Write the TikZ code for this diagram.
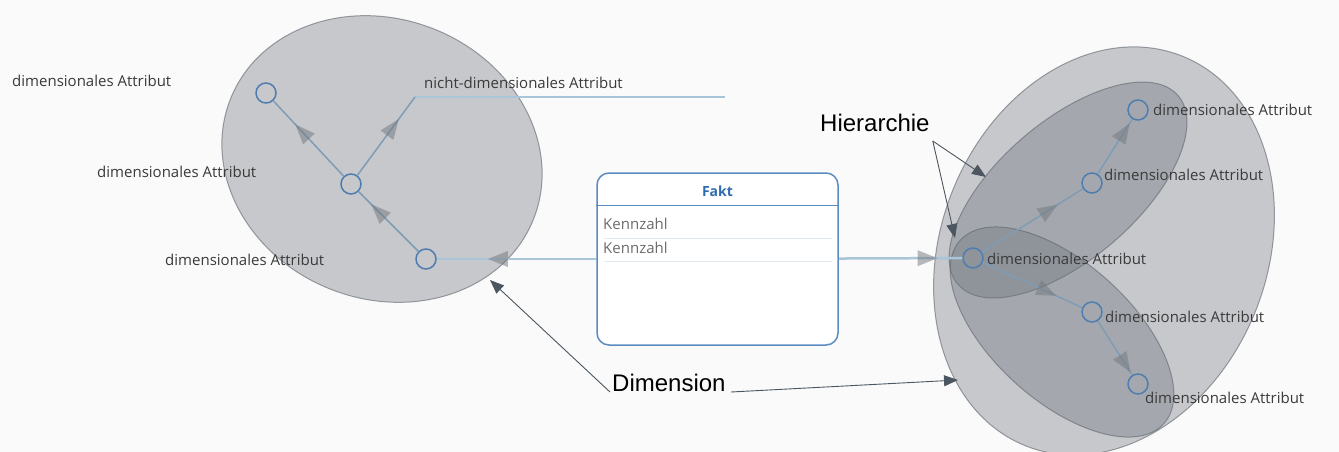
\documentclass[tikz,border=0pt]{standalone}
\usepackage{fontspec}
\setmainfont{Open Sans}
\newfontfamily\annfont{Liberation Sans}
\usetikzlibrary{positioning, calc, shapes.geometric, arrows.meta, decorations.markings}
\definecolor{bgc}{HTML}{FAFAFA}
\definecolor{zonec}{HTML}{6A727B}
\definecolor{zoneline}{HTML}{5E656D}
\definecolor{edgec}{HTML}{7F9CB4}
\definecolor{linkc}{HTML}{A9C5D8}
\definecolor{tipc}{HTML}{72787E}
\definecolor{nodec}{HTML}{4F7DAF}
\definecolor{labelc}{HTML}{3A3A3A}
\definecolor{faktc}{HTML}{5A8CC2}
\definecolor{faktink}{HTML}{2F6BAF}
\definecolor{rowc}{HTML}{E2E9EF}
\definecolor{annc}{HTML}{4B5660}
\newcommand{\LabelF}{\fontsize{15}{18}\selectfont}
\newcommand{\AnnF}{\annfont\fontsize{24}{28}\selectfont}
\newcommand{\hedge}[4]{%
  \draw[#4, postaction={decorate}, decoration={markings,
    mark=at position #3 with {\arrow[tipc, opacity=0.5]{Triangle[length=20pt, width=16pt, line width=0pt]}}}] (#1) -- (#2);
}
\tikzset{
  zone/.style={ellipse, draw=zoneline, line width=1pt, draw opacity=0.6,
    fill=zonec, fill opacity=0.36, inner sep=0pt},
  attr/.style={circle, draw=nodec, line width=1.5pt, minimum size=20pt, inner sep=0pt},
  alabel/.style={font=\LabelF, text=labelc, inner sep=0pt},
  hier/.style={draw=edgec, line width=1.5pt},
  link/.style={draw=linkc, line width=2.5pt},
  fakt/.style={draw=faktc, line width=1.5pt, rounded corners=12pt, fill=white,
    minimum width=241pt, minimum height=172pt, inner sep=0pt},
  annot/.style={font=\AnnF, text=black, inner sep=0pt},
  pointer/.style={draw=annc, line width=0.9pt, -{Triangle[length=14pt, width=11pt]}}
}
\begin{document}
\begin{tikzpicture}[x=1pt, y=-1pt]
\useasboundingbox (0,0) rectangle (1339,452);
\fill[bgc] (0,0) rectangle (1339,452);

% dimensions and hierarchies
\node[zone, minimum width=326pt, minimum height=280pt, rotate=-21.5] (dimleft) at (382,159) {};
\node[zone, minimum width=420pt, minimum height=326pt, rotate=68] (dimright) at (1104,251) {};
\node[zone, minimum width=290pt, minimum height=138pt, rotate=40.6] (hierup) at (1068,190) {};
\node[zone, minimum width=274pt, minimum height=138pt, rotate=-42] (hierdown) at (1062,332) {};

% left dimension
\node[attr] (la) at (266,93) {};
\node[attr] (lb) at (351,184) {};
\node[attr] (lc) at (426,259) {};
\coordinate (nbend) at (415,97);
\coordinate (nend) at (725,97);
\draw[link] (nbend) -- (nend);
\hedge{lb}{nbend}{0.72}{hier}
\hedge{lb}{la}{0.69}{hier}
\hedge{lc}{lb}{0.79}{hier}
\node[alabel, anchor=west] (la-t) at (12,81) {dimensionales Attribut};
\node[alabel, anchor=west] (lb-t) at (97,172) {dimensionales Attribut};
\node[alabel, anchor=west] (lc-t) at (165,260) {dimensionales Attribut};
\node[alabel, anchor=west] (nd-t) at (424,83) {nicht-dimensionales Attribut};

% fact
\node[fakt] (fakt) at (717.5,259) {};
\hedge{fakt}{lc}{0.68}{link}
\node[attr] (r0) at (973,258) {};
\hedge{fakt}{r0}{0.80}{link}
\node[font=\fontsize{14}{16}\selectfont\bfseries, text=faktink] (fakt-t) at (717.5,191) {Fakt};
\draw[faktc, line width=1.2pt] ([yshift=-33pt]fakt.north west) -- ([yshift=-33pt]fakt.north east);
\draw[rowc, line width=1pt] (604,238) -- (832,238);
\draw[rowc, line width=1pt] (604,261) -- (832,261);
\node[alabel, text=gray!85!black, anchor=west] (k1) at (603,224) {Kennzahl};
\node[alabel, text=gray!85!black, anchor=west] (k2) at (603,248) {Kennzahl};

% right dimension
\node[attr] (r1) at (1092,183) {};
\node[attr] (r2) at (1138,110) {};
\node[attr] (r3) at (1092,312) {};
\node[attr] (r4) at (1138,384) {};
\hedge{r0}{r1}{0.75}{hier}
\hedge{r1}{r2}{0.92}{hier}
\hedge{r0}{r3}{0.74}{hier}
\hedge{r3}{r4}{0.95}{hier}
\node[alabel, anchor=west] (r0-t) at (987,259) {dimensionales Attribut};
\node[alabel, anchor=west] (r1-t) at (1104,175) {dimensionales Attribut};
\node[alabel, anchor=west] (r2-t) at (1153,110) {dimensionales Attribut};
\node[alabel, anchor=west] (r3-t) at (1105,317) {dimensionales Attribut};
\node[alabel, anchor=west] (r4-t) at (1145,398) {dimensionales Attribut};

% annotations
\coordinate (dimtipL) at (490,280);
\coordinate (dimtipR) at (958,380);
\coordinate (hiertipA) at (986,177);
\coordinate (hiertipB) at (955,238);
\node[annot, anchor=west] (dim-t) at (612,383) {Dimension};
\node[annot, anchor=west] (hier-t) at (820,123) {Hierarchie};
\draw[pointer] ([xshift=-2pt]dim-t.south west) -- (dimtipL);
\draw[pointer] ([xshift=5pt]dim-t.south east) -- (dimtipR);
\draw[pointer] ([shift={(3pt,-9pt)}]hier-t.south east) -- (hiertipA);
\draw[pointer] ([shift={(3pt,-9pt)}]hier-t.south east) -- (hiertipB);
\end{tikzpicture}
\end{document}
